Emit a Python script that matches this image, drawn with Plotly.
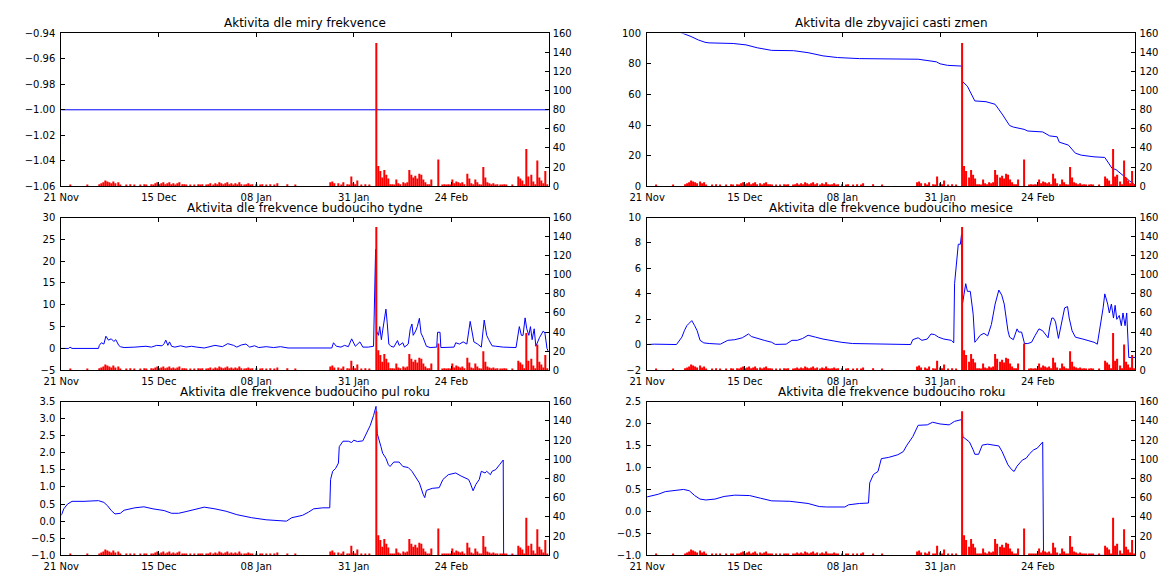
import plotly.graph_objects as go

# ---------------- data ----------------
TICK_DAYS = [0.8, 24.4, 48.0, 71.6, 95.2]          # days after 21 Nov 00:00
TICK_LABELS = ["21 Nov", "15 Dec", "08 Jan", "31 Jan", "24 Feb"]
X_RANGE = [0.8, 118.8]

TITLES = [
    "Aktivita dle miry frekvence",
    "Aktivita dle zbyvajici casti zmen",
    "Aktivita dle frekvence budouciho tydne",
    "Aktivita dle frekvence budouciho mesice",
    "Aktivita dle frekvence budouciho pul roku",
    "Aktivita dle frekvence budouciho roku",
]

# red activity counts, one value per half-day, first slot at day 1.0
ACT_START = 1.0
ACT_STEP = 0.5
activity = [
    0, 0, 0, 0, 1, 0, 0, 0, 0, 0, 0, 0, 1, 0, 0, 0, 0, 0, 2, 3,
    4, 6, 5, 4, 3, 5, 3, 4, 1, 0, 0, 1, 0, 2, 0, 1, 0, 0, 1, 0,
    2, 1, 0, 2, 1, 3, 4, 2, 3, 4, 2, 3, 4, 2, 3, 1, 3, 4, 2, 2,
    1, 0, 1, 0, 1, 0, 2, 1, 2, 0, 1, 2, 3, 1, 3, 2, 4, 3, 2, 3,
    4, 2, 3, 1, 3, 2, 4, 2, 1, 2, 3, 1, 2, 0, 2, 0, 1, 2, 0, 1,
    0, 2, 0, 1, 3, 0, 0, 0, 0, 2, 0, 0, 0, 1, 0, 0, 0, 0, 0, 0,
    0, 0, 0, 0, 0, 0, 0, 0, 0, 0, 4, 5, 3, 0, 3, 1, 4, 0, 2, 1,
    10, 3, 2, 6, 0, 1, 0, 2, 0, 1, 0, 0, 150, 21, 16, 9, 17, 12, 8, 2,
    2, 1, 7, 3, 2, 4, 3, 4, 17, 12, 9, 11, 8, 13, 12, 7, 4, 2, 2, 7,
    0, 0, 28, 0, 1, 2, 1, 2, 1, 7, 3, 5, 4, 3, 4, 2, 13, 8, 3, 2,
    7, 4, 2, 1, 20, 9, 4, 3, 2, 3, 1, 2, 1, 1, 2, 1, 0, 0, 1, 0,
    0, 10, 8, 6, 2, 39, 10, 12, 5, 2, 27, 9, 6, 3, 16, 2,
]

# blue series (day, value)
freq_days = [0.8, 118.8]
freq_vals = [-1.0, -1.0]

remain_days = [8.5, 10.1, 11.4, 13.2, 14.8, 15.8, 21.6, 24.7, 27.4, 30.9, 36.2, 39.7, 43.3,
               46.8, 52.1, 66.3, 70.7, 71.6, 73.4, 76.9, 77.0, 78.2, 79.1, 80.0, 82.7, 84.9,
               86.6, 88.4, 89.3, 91.9, 92.8, 96.4, 98.1, 99.9, 100.4, 102.6, 104.3, 105.7,
               108.8, 111.4, 112.3, 113.2, 114.1, 115.4, 116.3, 117.4, 118.8]
remain_vals = [101, 99.6, 98.0, 95.7, 94.2, 93.8, 93.4, 92.5, 90.6, 88.9, 88.7, 87.4, 85.3,
               84.2, 83.5, 83.1, 81.4, 80.1, 79.1, 78.6, 68.6, 65.4, 61.1, 55.8, 55.3, 53.6,
               47.2, 39.7, 38.7, 37.2, 36.1, 35.5, 32.9, 32.3, 28.8, 26.9, 21.6, 20.3,
               19.2, 18.8, 15.2, 11.5, 10.9, 7.7, 5.6, 3.4, 0.6]

week_days = [0.8, 2.6, 2.9, 3.4, 9.8, 10.0, 10.5, 11.1, 11.6, 12.2, 12.9, 13.5, 14.0, 14.7,
             15.1, 16.0, 18.6, 21.3, 22.6, 23.9, 25.2, 25.7, 26.1, 26.6, 27.0, 27.5, 28.3,
             29.7, 31.0, 32.3, 33.6, 35.4, 36.3, 38.0, 39.8, 41.1, 42.5, 43.3, 44.4, 45.5,
             46.4, 47.6, 48.6, 50.4, 52.2, 53.9, 55.7, 66.3, 66.7, 67.4, 68.5, 69.4, 70.3,
             71.1, 72.0, 73.1, 73.8, 75.1, 76.4, 76.7, 76.9, 77.1, 77.6, 77.9, 78.3, 78.6,
             79.4, 79.7, 80.1, 80.6, 81.3, 82.2, 82.6, 83.5, 83.9, 84.8, 85.3, 85.7, 86.0,
             86.6, 87.0, 87.5, 87.9, 88.4, 89.2, 90.1, 91.7, 91.9, 92.5, 92.7, 95.9, 96.3,
             97.2, 98.1, 99.0, 99.8, 100.3, 100.7, 101.6, 102.5, 103.2, 103.8, 104.3, 105.1,
             106.0, 107.8, 110.9, 111.7, 112.2, 112.6, 113.1, 113.5, 114.0, 114.4, 114.8,
             115.3, 115.7, 116.6, 117.5, 117.9, 118.4, 118.8]
week_vals = [0.0, 0.0, 0.3, 0.0, 0.0, 0.7, 1.3, 1.0, 2.8, 1.9, 2.2, 1.6, 2.0, 0.7,
             0.4, 0.2, 0.3, 0.5, 0.3, 0.7, 0.6, 1.1, 1.9, 0.7, 1.5, 0.5, 0.3,
             0.6, 0.3, 0.5, 0.3, 0.1, 0.3, 0.7, 0.4, 1.1, 0.7, 0.3, 0.8, 1.0,
             0.3, 0.6, 0.2, 0.4, 0.2, 0.4, 0.1, 0.1, 1.3, 0.5, 0.3, 0.7, 0.4,
             2.2, 0.5, 1.5, 0.3, 0.3, 0.5, 17.7, 22.7, 4.0, 3.0, 5.0, 2.0, 4.0,
             9.0, 6.0, 1.0, 0.5, 0.3, 1.8, 0.7, 1.3, 0.3, 1.0, 4.5, 5.6, 3.0,
             4.0, 5.0, 6.9, 3.5, 2.5, 0.5, 0.2, 0.3, 3.7, 3.7, 0.2, 0.3, 1.3,
             1.0, 1.5, 1.0, 6.2, 3.0, 1.5, 1.0, 0.3, 6.5, 3.0, 2.0, 0.6,
             0.5, 0.3, 0.2, 5.0, 3.0, 3.0, 7.0, 4.5, 3.0, 5.0, 2.0,
             4.5, 0.5, 2.5, 4.0, 3.5, 0.0, -0.8]

month_days = [0.8, 2.6, 7.9, 9.2, 9.8, 10.4, 11.0, 11.6, 12.3, 12.9, 13.6, 14.5, 15.8, 18.5,
              20.3, 22.0, 23.8, 25.3, 26.0, 27.4, 29.1, 30.9, 31.8, 34.4, 35.8, 37.1, 38.4,
              39.7, 40.6, 41.5, 43.3, 45.0, 47.7, 50.4, 55.7, 64.5, 65.0, 66.3, 67.2, 68.5,
              69.4, 70.3, 71.2, 72.5, 74.3, 74.9, 75.1, 75.6, 76.0, 76.5, 76.8, 77.0, 77.8,
              78.2, 78.9, 79.6, 80.0, 80.4, 81.3, 82.2, 83.1, 84.0, 84.9, 85.8, 86.5, 87.1,
              88.0, 88.4, 89.3, 90.2, 90.6, 91.3, 92.0, 92.8, 93.7, 94.6, 95.5, 96.4, 97.7,
              98.1, 98.6, 99.0, 99.5, 100.2, 101.2, 101.7, 102.4, 102.8, 103.5, 104.3, 106.1,
              108.8, 109.6, 110.3, 111.0, 111.4, 112.1, 112.5, 113.0, 113.5, 113.9, 114.3,
              114.9, 115.4, 115.8, 116.3, 116.7, 117.2, 118.8]
month_vals = [0.02, 0.05, 0.02, 0.6, 1.1, 1.5, 1.7, 1.9, 1.5, 1.1, 0.35, 0.15, 0.1, 0.05,
              0.35, 0.4, 0.55, 0.85, 0.65, 0.5, 0.35, 0.2, 0.03, 0.05, 0.35, 0.35, 0.5,
              0.75, 0.65, 0.6, 0.45, 0.35, 0.2, 0.1, 0.05, 0.02, 0.4, 0.55, 0.35, 0.45,
              0.85, 0.8, 0.6, 0.45, 0.35, 0.15, 4.8, 6.5, 7.9, 7.9, 8.7, 3.2, 4.8,
              4.2, 4.2, 2.4, 0.2, 0.35, 0.75, 0.9, 0.7, 1.6, 3.2, 4.3, 3.9, 3.2,
              1.1, 0.6, 0.4, 1.25, 1.0, 1.0, 0.1, 0.1, 0.2, 0.75, 1.25, 1.1, 0.55,
              1.4, 2.1, 2.1, 1.8, 0.5, 2.3, 2.9, 3.0, 2.1, 1.1, 0.6, 0.45,
              0.2, 0.05, 1.4, 2.9, 4.0, 3.2, 2.5, 3.2, 2.1, 3.1, 2.0,
              2.3, 1.5, 2.5, 1.5, 2.5, -1.0, -1.0]

half_days = [0.8, 1.4, 2.3, 3.4, 6.3, 9.8, 11.1, 12.0, 12.9, 13.8, 15.1, 16.0, 18.6, 20.8,
             23.0, 25.7, 27.5, 29.2, 31.0, 33.6, 35.4, 38.0, 40.7, 43.3, 46.9, 50.4, 53.9,
             55.3, 56.6, 59.2, 60.6, 61.9, 64.1, 65.8, 66.0, 66.5, 67.2, 67.9, 68.1, 69.0,
             70.3, 71.1, 71.6, 72.5, 73.8, 74.7, 75.6, 76.4, 77.0, 77.3, 77.8, 78.2, 78.6,
             79.4, 80.0, 80.4, 81.3, 82.6, 83.5, 84.8, 85.7, 86.6, 87.5, 88.4, 88.8, 89.2,
             90.6, 92.3, 93.2, 94.5, 96.3, 97.6, 99.4, 99.8, 100.5, 101.2, 102.0, 102.5,
             103.4, 103.8, 104.7, 105.1, 106.0, 106.9, 107.8, 107.9, 118.8]
half_vals = [0.17, 0.36, 0.5, 0.58, 0.58, 0.6, 0.55, 0.45, 0.31, 0.21, 0.23, 0.32, 0.39, 0.42,
             0.36, 0.31, 0.23, 0.23, 0.28, 0.36, 0.41, 0.36, 0.29, 0.19, 0.1, 0.04, 0.02,
             0.0, 0.1, 0.17, 0.26, 0.36, 0.39, 0.39, 1.22, 1.46, 1.54, 1.7, 2.18, 2.34,
             2.34, 2.3, 2.37, 2.33, 2.35, 2.56, 2.8, 3.09, 3.36, 2.56, 2.37, 2.18, 1.99,
             1.84, 1.65, 1.6, 1.73, 1.73, 1.6, 1.57, 1.46, 1.27, 1.12, 0.79, 0.69, 0.9,
             0.96, 0.98, 1.22, 1.36, 1.41, 1.32, 1.22, 1.12, 0.89, 1.08, 1.22, 1.46,
             1.41, 1.46, 1.36, 1.46, 1.51, 1.65, 1.79, -1.0, -1.0]

year_days = [0.8, 2.1, 3.5, 5.2, 7.9, 9.6, 11.0, 12.3, 13.6, 15.0, 17.2, 19.4, 22.0, 25.6,
             28.2, 30.9, 35.3, 39.7, 42.4, 44.2, 48.6, 49.5, 52.1, 54.3, 54.6, 55.5, 56.6,
             57.4, 59.2, 61.4, 62.7, 63.6, 65.0, 66.3, 68.5, 69.8, 71.6, 73.8, 75.1, 76.8,
             77.1, 77.8, 78.7, 79.6, 80.0, 80.9, 81.8, 83.1, 84.9, 85.8, 86.6, 88.0, 88.9,
             89.5, 90.2, 91.5, 92.4, 93.3, 94.2, 95.1, 96.4, 96.6, 118.8]
year_vals = [0.33, 0.36, 0.39, 0.45, 0.49, 0.5, 0.47, 0.36, 0.28, 0.26, 0.28, 0.34, 0.37, 0.36,
             0.3, 0.24, 0.23, 0.18, 0.11, 0.1, 0.1, 0.15, 0.18, 0.19, 0.65, 0.84, 0.91,
             1.2, 1.23, 1.29, 1.36, 1.51, 1.7, 1.96, 1.97, 2.03, 1.99, 1.97, 2.05, 2.09,
             1.7, 1.64, 1.58, 1.4, 1.3, 1.3, 1.51, 1.53, 1.51, 1.49, 1.36, 1.06, 0.95,
             0.91, 1.03, 1.17, 1.21, 1.32, 1.4, 1.44, 1.58, -1.0, -1.0]

LINE_DAYS = [freq_days, remain_days, week_days, month_days, half_days, year_days]
LINE_VALS = [freq_vals, remain_vals, week_vals, month_vals, half_vals, year_vals]

# left-axis settings per panel: (min, max, step, format)
LEFT_AXES = [
    (-1.06, -0.94, 0.02, ".2f"),
    (0, 100, 20, "d"),
    (-5, 30, 5, "d"),
    (-2, 10, 2, "d"),
    (-1.0, 3.5, 0.5, ".1f"),
    (-1.0, 2.5, 0.5, ".1f"),
]
RIGHT_RANGE = [0, 160]
RIGHT_STEP = 20

# ---------------- figure ----------------
W, H = 1161, 576
XDOMS = [[44 / W, 539 / W], [639 / W, 1135 / W]]
YDOMS = [[1 - 184 / H, 1 - 28 / H], [1 - 372 / H, 1 - 216 / H], [1 - 561 / H, 1 - 404 / H]]

FONT = "DejaVu Sans"
tickfont = dict(family=FONT, size=10, color="black")

act_x = [ACT_START + ACT_STEP * i for i in range(len(activity))]

fig = go.Figure()
layout = dict(
    width=W, height=H,
    margin=dict(l=0, r=0, t=0, b=0),
    paper_bgcolor="white", plot_bgcolor="white",
    showlegend=False,
    font=dict(family=FONT, size=10, color="black"),
    annotations=[],
)

for k in range(6):
    col, row = k % 2, k // 2
    xs = "x" if k == 0 else f"x{k + 1}"
    ys = "y" if k == 0 else f"y{k + 1}"
    ys2 = f"y{k + 7}"
    fig.add_trace(go.Scatter(x=LINE_DAYS[k], y=LINE_VALS[k], mode="lines",
                             line=dict(color="#0000ff", width=1),
                             xaxis=xs, yaxis=ys, hoverinfo="skip"))
    fig.add_trace(go.Bar(x=act_x, y=activity, width=0.26,
                         marker=dict(color="#ff0000", line=dict(width=0)),
                         xaxis=xs, yaxis=ys2, hoverinfo="skip"))
    lo, hi, step, fmt = LEFT_AXES[k]
    layout["xaxis" if k == 0 else f"xaxis{k + 1}"] = dict(
        domain=XDOMS[col], anchor=ys, range=X_RANGE,
        tickmode="array", tickvals=TICK_DAYS, ticktext=TICK_LABELS,
        ticks="inside", ticklen=4, tickcolor="black", tickwidth=1,
        showline=True, linecolor="black", linewidth=1, mirror="ticks",
        showgrid=False, zeroline=False, tickfont=tickfont, ticklabelstandoff=2,
    )
    layout["yaxis" if k == 0 else f"yaxis{k + 1}"] = dict(
        domain=YDOMS[row], anchor=xs, range=[lo, hi],
        tickmode="linear", tick0=lo, dtick=step, tickformat=fmt,
        ticks="inside", ticklen=4, tickcolor="black", tickwidth=1,
        showline=True, linecolor="black", linewidth=1, mirror=True,
        showgrid=False, zeroline=False, tickfont=tickfont, ticklabelstandoff=3,
    )
    layout[f"yaxis{k + 7}"] = dict(
        overlaying=ys, anchor=xs, side="right", range=RIGHT_RANGE,
        tickmode="linear", tick0=0, dtick=RIGHT_STEP,
        ticks="inside", ticklen=4, tickcolor="black", tickwidth=1,
        showline=False, showgrid=False, zeroline=False, tickfont=tickfont,
        ticklabelstandoff=3,
    )
    layout["annotations"].append(dict(
        text=TITLES[k], xref="paper", yref="paper",
        x=sum(XDOMS[col]) / 2, y=YDOMS[row][1], xanchor="center", yanchor="bottom",
        yshift=1, showarrow=False, font=dict(family=FONT, size=12, color="black"),
    ))

fig.update_layout(**layout)
fig.write_html("out.html")
